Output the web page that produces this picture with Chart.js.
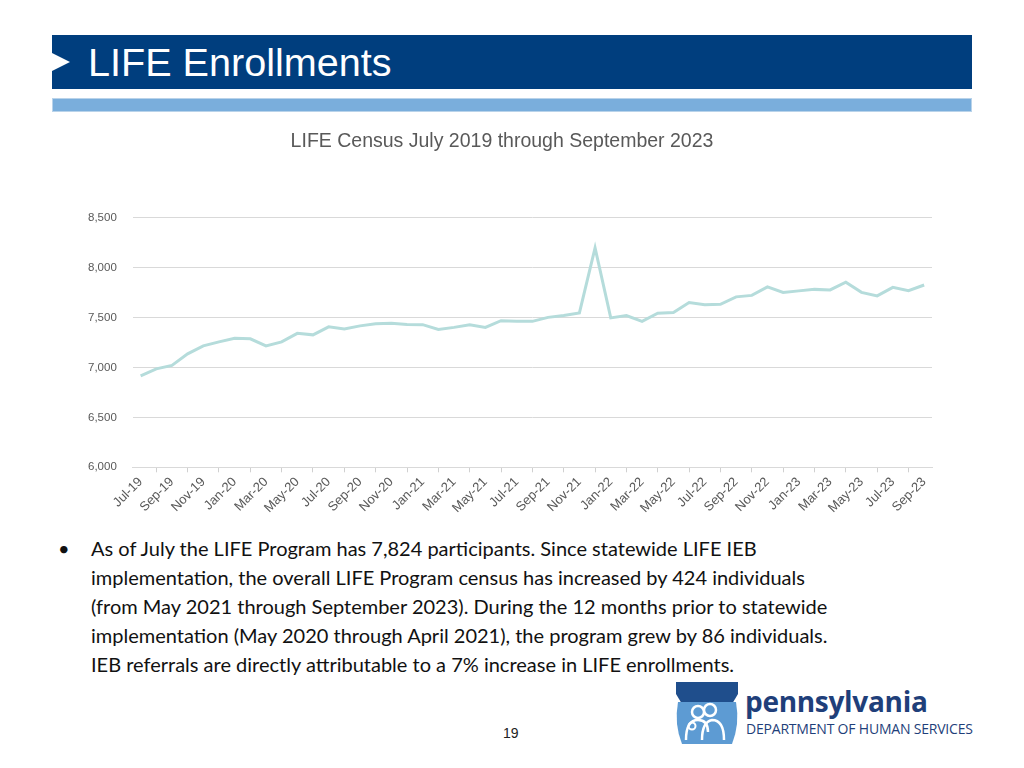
<!DOCTYPE html>
<html>
<head>
<meta charset="utf-8">
<script src="https://cdn.jsdelivr.net/npm/chart.js@4.4.0/dist/chart.umd.min.js"></script>
<style>
  body { margin: 0; width: 1024px; height: 768px; background: #fff; position: relative; overflow: hidden; font-family: "Liberation Sans", Arial, sans-serif; }
  .header { position: absolute; left: 52px; top: 35px; width: 920px; height: 54px; background: #003e7e; }
  .header .arrow { position: absolute; left: 0; top: 18px; width: 0; height: 0; border-top: 9px solid transparent; border-bottom: 9px solid transparent; border-left: 18px solid #fff; }
  .header h1 { position: absolute; left: 36px; top: 6px; margin: 0; color: #fff; font-weight: normal; font-size: 39.6px; line-height: 42px; }
  .band { position: absolute; left: 52px; top: 98px; width: 918px; height: 12px; background: #7aaedc; border: 1px solid #b9d3ea; }
  #wrap { position: absolute; left: 60px; top: 125px; width: 890px; height: 393px; }
  .notes { position: absolute; left: 58px; top: 534px; font-family: Lato, "Open Sans", sans-serif; font-size: 20px; line-height: 29px; color: #111; white-space: nowrap; }
  .notes .dot { position: absolute; left: 0; top: 0; }
  .notes .txt { position: absolute; left: 33px; top: 0; }
  .pnum { position: absolute; left: 503px; top: 725px; font-size: 14px; color: #222; }
  .logo { position: absolute; left: 672px; top: 680px; }
  .pa { position: absolute; left: 745px; top: 685px; font-family: "Open Sans", sans-serif; font-weight: bold; font-size: 28px; line-height: 32px; color: #1f3f7a; letter-spacing: -0.3px; }
  .dhs { position: absolute; left: 746px; top: 721px; font-family: "Open Sans", sans-serif; font-size: 14px; line-height: 16px; color: #1f3f7a; letter-spacing: -0.2px; }
</style>
</head>
<body>
<div class="header"><div class="arrow"></div><h1>LIFE Enrollments</h1></div>
<div class="band"></div>
<div id="wrap"><canvas id="grafica"></canvas></div>
<div class="notes">
  <span class="dot">&#8226;</span>
  <span class="txt">As of July the LIFE Program has 7,824 participants. Since statewide LIFE IEB<br>implementation, the overall LIFE Program census has increased by 424 individuals<br>(from May 2021 through September 2023). During the 12 months prior to statewide<br>implementation (May 2020 through April 2021), the program grew by 86 individuals.<br>IEB referrals are directly attributable to a 7% increase in LIFE enrollments.</span>
</div>
<div class="pnum">19</div>
<svg class="logo" width="70" height="66" viewBox="0 0 70 66">
  <polygon points="4,2 66,2 66,14 60,24 10,24 4,14" fill="#1f4e8c"/>
  <polygon points="22,2 48,2 48,8 22,8" fill="#1f4e8c"/>
  <path d="M6,22 Q2,44 10,64 L60,64 Q68,44 64,22 Z" fill="#5d9bd3"/>
  <circle cx="26" cy="32" r="6" fill="none" stroke="#fff" stroke-width="2.5"/>
  <circle cx="38" cy="30" r="6" fill="none" stroke="#fff" stroke-width="2.5"/>
  <path d="M14,60 Q14,40 26,40 Q36,40 36,52" fill="none" stroke="#fff" stroke-width="2.5"/>
  <path d="M30,60 Q30,42 40,40 Q52,40 52,60" fill="none" stroke="#fff" stroke-width="2.5"/>
  <circle cx="20" cy="46" r="3.5" fill="none" stroke="#fff" stroke-width="2"/>
</svg>
<div class="pa">pennsylvania</div>
<div class="dhs">DEPARTMENT OF HUMAN SERVICES</div>
<script>
const meses = [
  'Jul-19', 'Aug-19', 'Sep-19', 'Oct-19', 'Nov-19', 'Dec-19',
  'Jan-20', 'Feb-20', 'Mar-20', 'Apr-20', 'May-20', 'Jun-20', 'Jul-20', 'Aug-20', 'Sep-20', 'Oct-20', 'Nov-20', 'Dec-20',
  'Jan-21', 'Feb-21', 'Mar-21', 'Apr-21', 'May-21', 'Jun-21', 'Jul-21', 'Aug-21', 'Sep-21', 'Oct-21', 'Nov-21', 'Dec-21',
  'Jan-22', 'Feb-22', 'Mar-22', 'Apr-22', 'May-22', 'Jun-22', 'Jul-22', 'Aug-22', 'Sep-22', 'Oct-22', 'Nov-22', 'Dec-22',
  'Jan-23', 'Feb-23', 'Mar-23', 'Apr-23', 'May-23', 'Jun-23', 'Jul-23', 'Aug-23', 'Sep-23'
];
const censo = [
  6915, 6985, 7020, 7135, 7215, 7255,
  7290, 7285, 7215, 7255, 7340, 7325, 7405, 7385, 7415, 7435, 7440, 7428,
  7427, 7380, 7400, 7426, 7400, 7467, 7462, 7460, 7500, 7518, 7545, 8195,
  7495, 7518, 7460, 7542, 7548, 7648, 7627, 7630, 7705, 7720, 7805, 7750,
  7765, 7780, 7775, 7852, 7750, 7715, 7800, 7767, 7824
];
const ejeY = [6000, 6500, 7000, 7500, 8000, 8500];

document.addEventListener('DOMContentLoaded', function () {
  const ctx = document.getElementById('grafica');
  new Chart(ctx, {
    type: 'line',
    data: {
      labels: meses,
      datasets: [{
        label: 'LIFE Census',
        data: censo,
        borderColor: '#b5dcdb',
        borderWidth: 3,
        pointRadius: 0,
        tension: 0
      }]
    },
    options: {
      responsive: true,
      maintainAspectRatio: false,
      animation: false,
      layout: { padding: { left: 12, right: 18, top: 0, bottom: 0 } },
      scales: {
        x: {
          offset: true,
          grid: { offset: true, drawOnChartArea: false, color: '#d0d0d0', tickLength: 5 },
          border: { color: '#d9d9d9' },
          ticks: {
            autoSkip: false,
            maxRotation: 45,
            minRotation: 45,
            padding: 2,
            color: '#595959',
            font: { size: 13, family: 'Liberation Sans, Arial, sans-serif' },
            callback: function (v, i) { return i % 2 === 0 ? meses[i] : null; }
          }
        },
        y: {
          min: ejeY[0],
          max: ejeY[ejeY.length - 1],
          afterBuildTicks: function (axis) { axis.ticks = ejeY.map(v => ({ value: v })); },
          grid: { color: '#d9d9d9', drawTicks: false },
          border: { display: false },
          ticks: {
            padding: 16,
            color: '#595959',
            font: { size: 11.5, family: 'Liberation Sans, Arial, sans-serif' },
            callback: v => v.toLocaleString('en-US')
          }
        }
      },
      plugins: {
        legend: { display: false },
        tooltip: { enabled: false },
        title: {
          display: true,
          text: 'LIFE Census July 2019 through September 2023',
          color: '#595959',
          font: { size: 19.5, weight: 'normal', family: 'Liberation Sans, Arial, sans-serif' },
          padding: { top: 5, bottom: 64 }
        }
      }
    }
  });
});
</script>
</body>
</html>
